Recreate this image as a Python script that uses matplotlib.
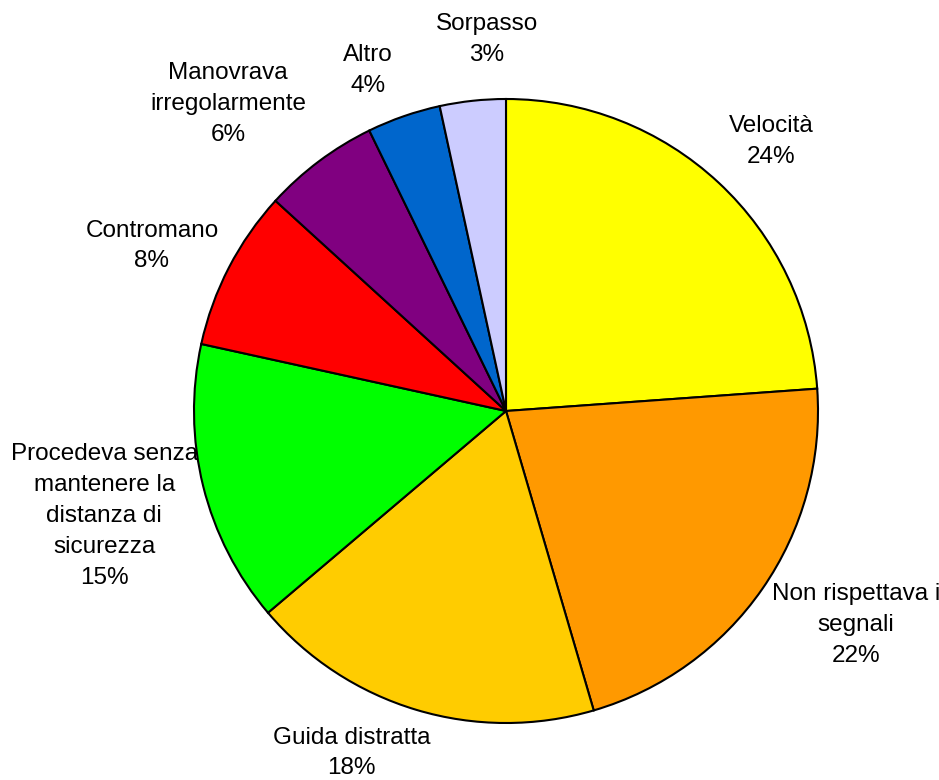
import matplotlib
matplotlib.use("Agg")
import matplotlib.pyplot as plt

categories = ["Velocità", "Non rispettava i\nsegnali", "Guida distratta",
              "Procedeva senza\nmantenere la\ndistanza di\nsicurezza",
              "Contromano", "Manovrava\nirregolarmente", "Altro", "Sorpasso"]
values = [23.8, 21.55, 18.3, 14.6, 8.3, 6.0, 3.8, 3.4]
colors = ["#FFFF00", "#FF9900", "#FFCC00", "#00FF00", "#FF0000", "#800080", "#0066CC", "#CCCCFF"]

# label centres (layout, in pie-radius units)
label_pos = [(0.849, 0.864), (1.122, -0.686), (-0.494, -1.096), (-1.288, -0.337),
             (-1.135, 0.529), (-0.891, 0.984), (-0.442, 1.090), (-0.061, 1.191)]

W, H = 939, 780
cx, cy, R = 506, 411, 312

fig = plt.figure(figsize=(W / 100, H / 100), dpi=100)
ax = fig.add_axes([0, 0, 1, 1])
ax.pie(values, colors=colors, startangle=90, counterclock=False, radius=1,
       wedgeprops=dict(edgecolor="black", linewidth=1.5))
ax.set_xlim(-cx / R, (W - cx) / R)
ax.set_ylim(-(H - cy) / R, cy / R)
ax.set_aspect("equal")
ax.axis("off")

total = sum(values)
for cat, v, (x, y) in zip(categories, values, label_pos):
    pct = round(v / total * 100)
    ax.text(x, y, f"{cat}\n{pct}%", ha="center", va="center", fontsize=17.5,
            family=["Liberation Sans", "DejaVu Sans"], linespacing=1.52, color="black")

fig.savefig("out.png", dpi=100)
